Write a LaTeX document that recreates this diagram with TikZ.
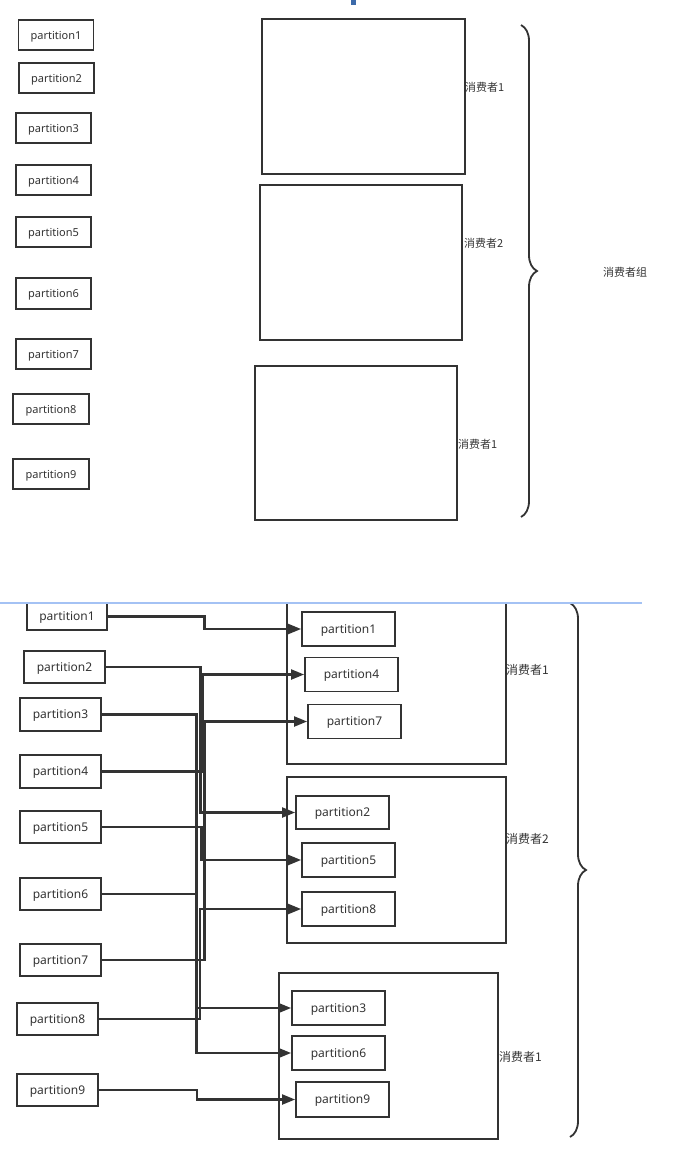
\documentclass[tikz,border=0pt]{standalone}
\usepackage{fontspec}
\setmainfont{Noto Sans}
\newfontfamily\cjk{Noto Sans CJK SC}
\usetikzlibrary{calc}
\usetikzlibrary{arrows.meta}
\usetikzlibrary{decorations.pathreplacing}
\definecolor{linegray}{HTML}{333333}
\definecolor{markblue}{HTML}{3C6AAA}
\definecolor{cutblue}{HTML}{A4C2F4}
\tikzset{
        box/.style={draw=linegray, line width=1.8pt, inner sep=0pt, text depth=0pt, text=linegray},
        % Partitions, top layout
        part_top/.style={box, minimum width=75pt, minimum height=30pt, font=\fontsize{11}{13}\selectfont},
        % Partitions, bottom layout
        part_low/.style={box, minimum width=81pt, minimum height=32pt, font=\fontsize{12}{14}\selectfont},
        % Partitions inside a consumer
        part_in/.style={box, minimum width=93pt, minimum height=34pt, font=\fontsize{12}{14}\selectfont},
        % Consumers
        consumer/.style={box},
        consumer_label/.style={anchor=west, inner sep=0pt, text=linegray, font=\cjk\fontsize{11}{13}\selectfont},
        % Group brace
        group_brace/.style={draw=linegray, line width=1.8pt, decorate, decoration={brace, amplitude=16pt}},
        % Assignment arrows
        link/.style={draw=linegray, line width=2.1pt, -{Triangle[length=13pt, width=10pt]}}
}

\begin{document}
\begin{tikzpicture}[x=1pt, y=-1pt]
            \useasboundingbox (0,0) rectangle (696,1160);
            \fill[markblue] (351,0) rectangle (356,5);

            % Top layout
            \node[part_top] (t1) at (56,35) {partition1};
            \node[part_top] (t2) at (56.5,78) {partition2};
            \node[part_top] (t3) at (53.5,128) {partition3};
            \node[part_top] (t4) at (53.5,180) {partition4};
            \node[part_top] (t5) at (53.5,232) {partition5};
            \node[part_top, minimum height=31pt] (t6) at (53.5,293.5) {partition6};
            \node[part_top] (t7) at (53.5,354) {partition7};
            \node[part_top, minimum width=76pt] (t8) at (51,409) {partition8};
            \node[part_top, minimum width=76pt] (t9) at (51,474) {partition9};

            \node[consumer, minimum width=203pt, minimum height=155pt] (c1) at (363.5,96.5) {};
            \node[consumer, minimum width=202pt, minimum height=155pt] (c2) at (361,262.5) {};
            \node[consumer, minimum width=202pt, minimum height=154pt] (c3) at (356,443) {};
            \node[consumer_label] (c1_label) at (465,87) {消费者1};
            \node[consumer_label] (c2_label) at (464,243) {消费者2};
            \node[consumer_label] (c3_label) at (458,444) {消费者1};

            \coordinate (brace_top_a) at (521,25);
            \coordinate (brace_top_b) at (521,517);
            \draw[group_brace] (brace_top_a) -- (brace_top_b);
            \node[consumer_label] (group_top) at (603,272) {消费者组};

            % Bottom layout
            \node[part_low, minimum width=80pt, minimum height=27pt] (b1) at (67,616.5) {partition1};
            \node[part_low] (b2) at (64.5,667) {partition2};
            \node[part_low, minimum height=33pt] (b3) at (60.5,714.5) {partition3};
            \node[part_low, minimum height=33pt] (b4) at (60.5,771.5) {partition4};
            \node[part_low] (b5) at (60.5,827) {partition5};
            \node[part_low] (b6) at (60.5,894) {partition6};
            \node[part_low] (b7) at (60.5,960) {partition7};
            \node[part_low] (b8) at (57.5,1019) {partition8};
            \node[part_low] (b9) at (57.5,1090) {partition9};

            \node[consumer, minimum width=219pt, minimum height=161pt] (d1) at (396.5,683.5) {};
            \node[consumer, minimum width=219pt, minimum height=166pt] (d2) at (396.5,860) {};
            \node[consumer, minimum width=219pt, minimum height=166pt] (d3) at (388.5,1056) {};
            \node[consumer_label, font=\cjk\fontsize{12}{14}\selectfont] (d1_label) at (506,670) {消费者1};
            \node[consumer_label, font=\cjk\fontsize{12}{14}\selectfont] (d2_label) at (506,839) {消费者2};
            \node[consumer_label, font=\cjk\fontsize{12}{14}\selectfont] (d3_label) at (499,1057) {消费者1};

            \node[part_in] (a1) at (348.5,629) {partition1};
            \node[part_in] (a4) at (351.5,674.5) {partition4};
            \node[part_in] (a7) at (354.5,721.5) {partition7};
            \node[part_in, minimum height=33pt] (a2) at (342.5,812.5) {partition2};
            \node[part_in] (a5) at (348.5,860) {partition5};
            \node[part_in] (a8) at (348.5,909) {partition8};
            \node[part_in] (a3) at (338.5,1008) {partition3};
            \node[part_in] (a6) at (338.5,1053) {partition6};
            \node[part_in, minimum height=35pt] (a9) at (342.5,1099.5) {partition9};

            \draw[link] (b1.east) -| ($(b1.east)!.5!(a1.west)$) |- (a1.west);
            \draw[link] (b2.east) -| ($(b2.east)!.5!(a2.west)$) |- (a2.west);
            \draw[link] (b3.east) -| ($(b3.east)!.5!(a3.west)$) |- (a3.west);
            \draw[link] (b4.east) -| ($(b4.east)!.5!(a4.west)$) |- (a4.west);
            \draw[link] (b5.east) -| ($(b5.east)!.5!(a5.west)$) |- (a5.west);
            \draw[link] (b6.east) -| ($(b6.east)!.5!(a6.west)$) |- (a6.west);
            \draw[link] (b7.east) -| ($(b7.east)!.5!(a7.west)$) |- (a7.west);
            \draw[link] (b8.east) -| ($(b8.east)!.5!(a8.west)$) |- (a8.west);
            \draw[link] (b9.east) -| ($(b9.east)!.5!(a9.west)$) |- (a9.west);

            \coordinate (brace_low_a) at (570,603);
            \coordinate (brace_low_b) at (570,1137);
            \draw[group_brace] (brace_low_a) -- (brace_low_b);

            % Cut line between the two layouts
            \coordinate (cut_a) at (0,603);
            \coordinate (cut_b) at (642,603);
            \draw[cutblue, line width=2pt] (cut_a) -- (cut_b);
        \end{tikzpicture}
\end{document}
